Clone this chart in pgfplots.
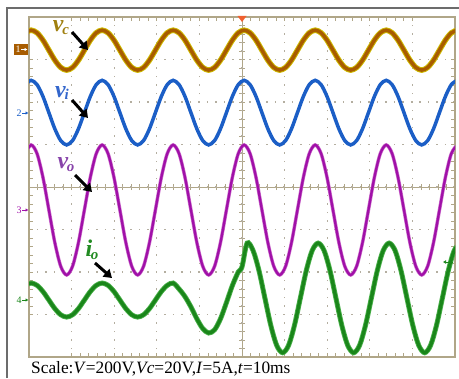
\documentclass[border=0pt]{standalone}
\usepackage{pgfplots}
\pgfplotsset{compat=1.18}
\usepackage{pgfplotstable}
\usetikzlibrary{arrows.meta}
\usepackage{fontspec}
\setmainfont{Liberation Serif}
\definecolor{gridc}{HTML}{B0A688}
\definecolor{dotc}{HTML}{B4AEA0}
\definecolor{vcline}{HTML}{A85C00}
\definecolor{vcfuzz}{HTML}{CDB800}
\definecolor{vcl}{HTML}{A08010}
\definecolor{viline}{HTML}{1B5EC6}
\definecolor{vil}{HTML}{3366CC}
\definecolor{voline}{HTML}{A010A8}
\definecolor{vofuzz}{HTML}{CC70CC}
\definecolor{vol}{HTML}{8844AA}
\definecolor{ioline}{HTML}{1A861A}
\definecolor{iofuzz}{HTML}{4AB04A}
\definecolor{iol}{HTML}{228B22}
\definecolor{trig}{HTML}{F06030}

\pgfplotstableread{
t vc vi vo
-50.889 3.627 2.408 0.785
-49.500 3.690 2.510 0.990
-48.111 3.627 2.408 0.785
-46.722 3.455 2.130 0.225
-45.333 3.220 1.750 -0.540
-43.943 2.985 1.370 -1.305
-42.554 2.813 1.092 -1.865
-41.165 2.750 0.990 -2.070
-39.776 2.813 1.092 -1.865
-38.387 2.985 1.370 -1.305
-36.998 3.220 1.750 -0.540
-35.608 3.455 2.130 0.225
-34.219 3.627 2.408 0.785
-32.830 3.690 2.510 0.990
-31.441 3.627 2.408 0.785
-30.052 3.455 2.130 0.225
-28.663 3.220 1.750 -0.540
-27.273 2.985 1.370 -1.305
-25.884 2.813 1.092 -1.865
-24.495 2.750 0.990 -2.070
-23.106 2.813 1.092 -1.865
-21.717 2.985 1.370 -1.305
-20.327 3.220 1.750 -0.540
-18.938 3.455 2.130 0.225
-17.549 3.627 2.408 0.785
-16.160 3.690 2.510 0.990
-14.771 3.627 2.408 0.785
-13.382 3.455 2.130 0.225
-11.992 3.220 1.750 -0.540
-10.603 2.985 1.370 -1.305
-9.214 2.813 1.092 -1.865
-7.825 2.750 0.990 -2.070
-6.436 2.813 1.092 -1.865
-5.047 2.985 1.370 -1.305
-3.657 3.220 1.750 -0.540
-2.268 3.455 2.130 0.225
-0.879 3.627 2.408 0.785
0.510 3.690 2.510 0.990
1.899 3.627 2.408 0.785
3.288 3.455 2.130 0.225
4.677 3.220 1.750 -0.540
6.067 2.985 1.370 -1.305
7.456 2.813 1.092 -1.865
8.845 2.750 0.990 -2.070
10.234 2.813 1.092 -1.865
11.623 2.985 1.370 -1.305
13.012 3.220 1.750 -0.540
14.402 3.455 2.130 0.225
15.791 3.627 2.408 0.785
17.180 3.690 2.510 0.990
18.569 3.627 2.408 0.785
19.958 3.455 2.130 0.225
21.347 3.220 1.750 -0.540
22.737 2.985 1.370 -1.305
24.126 2.813 1.092 -1.865
25.515 2.750 0.990 -2.070
26.904 2.813 1.092 -1.865
28.293 2.985 1.370 -1.305
29.682 3.220 1.750 -0.540
31.072 3.455 2.130 0.225
32.461 3.627 2.408 0.785
33.850 3.690 2.510 0.990
35.239 3.627 2.408 0.785
36.628 3.455 2.130 0.225
38.017 3.220 1.750 -0.540
39.406 2.985 1.370 -1.305
40.796 2.813 1.092 -1.865
42.185 2.750 0.990 -2.070
43.574 2.813 1.092 -1.865
44.963 2.985 1.370 -1.305
46.352 3.220 1.750 -0.540
47.741 3.455 2.130 0.225
49.131 3.627 2.408 0.785
50.520 3.690 2.510 0.990
}\volt

\pgfplotstableread{
t io
-50.889 -2.314
-49.500 -2.260
-48.111 -2.314
-46.722 -2.460
-45.333 -2.660
-43.943 -2.860
-42.554 -3.006
-41.165 -3.060
-39.776 -3.006
-38.387 -2.860
-36.998 -2.660
-35.608 -2.460
-34.219 -2.314
-32.830 -2.260
-31.441 -2.314
-30.052 -2.460
-28.663 -2.660
-27.273 -2.860
-25.884 -3.006
-24.495 -3.060
-23.106 -3.006
-21.717 -2.860
-20.327 -2.660
-18.938 -2.460
-17.549 -2.314
-16.160 -2.260
-14.771 -2.400
-13.382 -2.580
-11.992 -2.820
-10.603 -3.100
-9.214 -3.330
-7.825 -3.435
-6.436 -3.360
-5.047 -3.100
-3.657 -2.720
-2.268 -2.320
-0.879 -2.000
0.000 -1.880
1.200 -1.320
2.589 -1.493
3.978 -1.965
5.368 -2.610
6.757 -3.255
8.146 -3.727
9.535 -3.900
10.924 -3.727
12.313 -3.255
13.703 -2.610
15.092 -1.965
16.481 -1.493
17.870 -1.320
19.259 -1.493
20.648 -1.965
22.038 -2.610
23.427 -3.255
24.816 -3.727
26.205 -3.900
27.594 -3.727
28.983 -3.255
30.373 -2.610
31.762 -1.965
33.151 -1.493
34.540 -1.320
35.929 -1.493
37.318 -1.965
38.708 -2.610
40.097 -3.255
41.486 -3.727
42.875 -3.900
44.264 -3.727
45.653 -3.255
47.043 -2.610
48.432 -1.965
49.821 -1.493
51.210 -1.320
}\cur

\newcommand\lab[2]{#1\kern-0.05em\raisebox{-0.12em}{\fontsize{15}{15}\selectfont #2}}

\begin{document}
\begin{tikzpicture}
\begin{scope}[x=1bp,y=1bp]
\useasboundingbox (0,0) rectangle (459,378);
% outer frame
\draw[draw=gray!85!black, line width=2bp] (7,0) -- (7,370) -- (459,370);
% crosshair
\draw[gridc, line width=1bp] (29,191) -- (455,191);
\draw[gridc, line width=1bp] (242,21) -- (242,361);
\foreach \i in {1,...,49} \draw[gridc, line width=0.8bp] ({29+8.52*\i},188) -- ({29+8.52*\i},194);
\foreach \j in {1,...,39} \draw[gridc, line width=0.8bp] (239,{21+8.5*\j}) -- (245,{21+8.5*\j});
\end{scope}

\begin{axis}[
  at={(29bp,21bp)}, anchor=south west,
  scale only axis, width=426bp, height=340bp,
  xmin=-50, xmax=50, ymin=-4, ymax=4,
  xtick={-40,-30,...,40}, ytick={-3,-2,...,3},
  minor x tick num=4, minor y tick num=4,
  xticklabels={}, yticklabels={},
  tick align=inside,
  major tick length=4bp, minor tick length=4bp,
  every tick/.style={gridc, line width=0.8bp},
  axis line style={gridc, line width=1.3bp},
  grid=major,
  major grid style={dotc, line width=1.3bp, dash pattern=on 1.3bp off 7.2bp, dash phase=0.65bp},
]
\addplot[vcfuzz, line width=5.5bp, smooth] table[x=t,y=vc]{\volt};
\addplot[vcline, line width=3.5bp, smooth] table[x=t,y=vc]{\volt};
\addplot[viline, line width=3.5bp, smooth] table[x=t,y=vi]{\volt};
\addplot[vofuzz, line width=3.5bp, smooth] table[x=t,y=vo]{\volt};
\addplot[voline, line width=2.3bp, smooth] table[x=t,y=vo]{\volt};
\addplot[iofuzz, line width=5bp, smooth] table[x=t,y=io]{\cur};
\addplot[ioline, line width=3.3bp, smooth] table[x=t,y=io]{\cur};
\end{axis}

\begin{scope}[x=1bp,y=1bp]
% trigger marker
\fill[trig] (237.5,362) -- (246.5,362) -- (242,356) -- cycle;
% channel markers
\fill[vcline] (14,323) rectangle (28,334);
\node[text=white, font=\fontsize{10}{10}\selectfont, inner sep=0] at (18,328.5) {1};
\draw[white, line width=0.9bp, -{Latex[length=3bp,width=3.5bp]}] (21,328.5) -- (27.5,328.5);
\node[text=viline, font=\fontsize{10}{10}\selectfont, inner sep=0] at (19,265) {2};
\draw[viline, line width=0.9bp, -{Latex[length=3bp,width=3.5bp]}] (22,265) -- (28.5,265);
\node[text=voline, font=\fontsize{10}{10}\selectfont, inner sep=0] at (19,168) {3};
\draw[voline, line width=0.9bp, -{Latex[length=3bp,width=3.5bp]}] (22,168) -- (28.5,168);
\node[text=ioline, font=\fontsize{10}{10}\selectfont, inner sep=0] at (19,78) {4};
\draw[ioline, line width=0.9bp, -{Latex[length=3bp,width=3.5bp]}] (22,78) -- (28.5,78);
% trigger level marker right
\draw[ioline, line width=1bp, -{Latex[length=3bp,width=4bp]}] (453,116) -- (443,116);
% labels
\node[text=vcl, font=\fontsize{24}{24}\selectfont\bfseries\itshape, inner sep=0] at (61,350) {\lab{v}{c}};
\node[text=vil, font=\fontsize{24}{24}\selectfont\bfseries\itshape, inner sep=0] at (62,285) {\lab{v}{i}};
\node[text=vol, font=\fontsize{24}{24}\selectfont\bfseries\itshape, inner sep=0] at (66,213) {\lab{v}{o}};
\node[text=iol, font=\fontsize{24}{24}\selectfont\bfseries\itshape, inner sep=0] at (92,128) {\lab{i}{o}};
% arrows
\draw[black, line width=3bp, -{Triangle[length=8bp,width=10bp]}] (72,346) -- (88,328);
\draw[black, line width=3bp, -{Triangle[length=8bp,width=10bp]}] (72,278) -- (88,260);
\draw[black, line width=3bp, -{Triangle[length=8bp,width=10bp]}] (75,203) -- (92,186);
\draw[black, line width=3bp, -{Triangle[length=8bp,width=10bp]}] (95,115) -- (112,100);
% scale text
\node[anchor=base west, inner sep=0, font=\fontsize{17.4}{17.4}\selectfont] at (31,5) {Scale:\textit{V}=200V,\textit{Vc}=20V,\textit{I}=5A,\textit{t}=10ms};
\end{scope}
\end{tikzpicture}
\end{document}
